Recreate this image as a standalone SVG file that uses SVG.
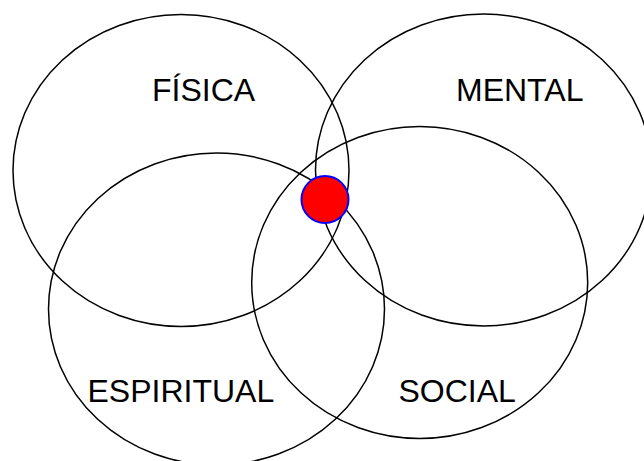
<svg xmlns="http://www.w3.org/2000/svg" width="644" height="461" viewBox="0 0 644 461">
<style>
.c{fill:none;stroke:#000;stroke-width:1.5}
.t{font-family:"Liberation Sans",Arial,sans-serif;font-size:32px;fill:#000}
</style>
<rect width="644" height="461" fill="#fff"/>
<g id="fisica"><ellipse class="c" cx="181" cy="170.5" rx="168" ry="156"/><text class="t" x="152" y="101">FÍSICA</text></g>
<g id="mental"><ellipse class="c" cx="483.5" cy="170" rx="168" ry="156"/><text class="t" x="456" y="101">MENTAL</text></g>
<g id="espiritual"><ellipse class="c" cx="216.5" cy="309" rx="168" ry="156"/><text class="t" x="87.5" y="401.5">ESPIRITUAL</text></g>
<g id="social"><ellipse class="c" cx="419.7" cy="282.5" rx="168" ry="156"/><text class="t" x="398.5" y="401.5">SOCIAL</text></g>
<g id="center"><circle cx="325" cy="199.5" r="23.5" fill="#f00" stroke="#00f" stroke-width="2"/></g>
<g id="connectors"/>
</svg>
